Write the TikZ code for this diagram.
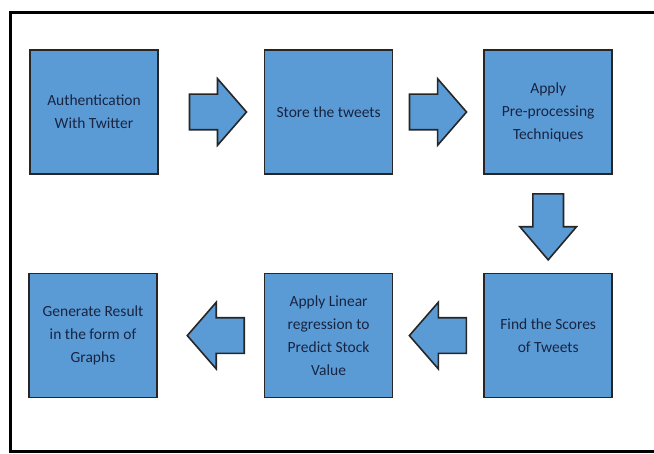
\documentclass[tikz,border=0pt]{standalone}
\usepackage{fontspec}
\setmainfont{Carlito}
\usetikzlibrary{positioning,shapes.arrows}
\definecolor{boxblue}{RGB}{91,155,213}
\definecolor{textnavy}{RGB}{24,36,66}

\begin{document}
\begin{tikzpicture}[x=1pt,y=-1pt,
    stepbox/.style={draw=black!85, line width=1.6pt, fill=boxblue, text=textnavy,
        minimum width=128pt, minimum height=124pt, inner sep=2pt, align=center,
        font=\fontsize{15.5}{23}\selectfont},
    flowarrow/.style={single arrow, draw=black!85, line width=1.6pt, fill=boxblue,
        inner xsep=0pt, inner ysep=17pt, minimum height=57pt,
        single arrow head extend=15.5pt, single arrow tip angle=98,
        single arrow head indent=0pt}]
    \useasboundingbox (0,0) rectangle (654,454);
    \draw[line width=3pt] (680,13) -- (10,13) -- (10,452) -- (680,452);

    \node (auth)   [stepbox] at (94,112)         {Authentication\\With Twitter};
    \node (store)  [stepbox, right=105pt of auth]  {Store the tweets};
    \node (prep)   [stepbox, right=90pt of store]  {Apply\\Pre-processing\\Techniques};
    \node (score)  [stepbox, below=98pt of prep]   {Find the Scores\\of Tweets};
    \node (regr)   [stepbox, left=90pt of score]   {Apply Linear\\regression to\\Predict Stock\\Value};
    \node (result) [stepbox, left=106pt of regr]   {Generate Result\\in the form of\\Graphs};

    \path (auth)  -- (store)  node[flowarrow, pos=0.49] {};
    \path (store) -- (prep)   node[flowarrow, pos=0.41] {};
    \path (prep)  -- (score)  node[flowarrow, pos=0.44, shape border rotate=270,
                                   minimum height=66pt, inner xsep=14.5pt, inner ysep=0pt,
                                   single arrow head extend=13pt, single arrow tip angle=81] {};
    \path (score) -- (regr)   node[flowarrow, pos=0.42, shape border rotate=180] {};
    \path (regr)  -- (result) node[flowarrow, pos=0.38, shape border rotate=180] {};
\end{tikzpicture}
\end{document}
